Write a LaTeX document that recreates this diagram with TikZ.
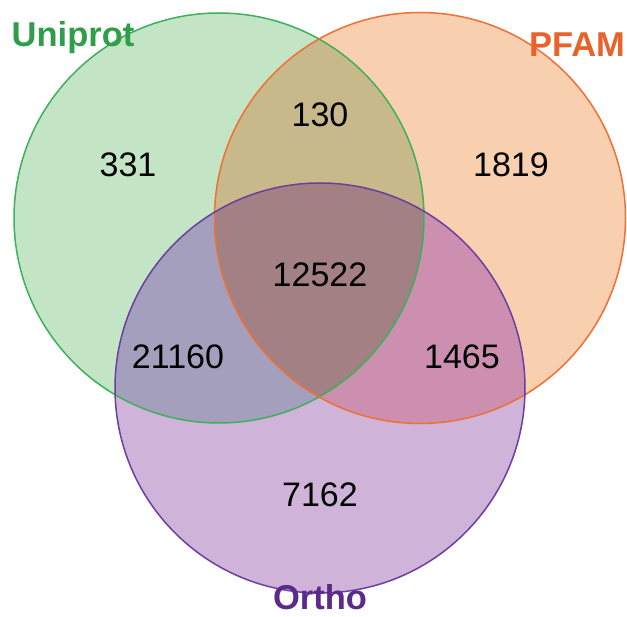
\documentclass[tikz,border=0pt]{standalone}
\usepackage{fontspec}
\setmainfont{Liberation Sans}
\definecolor{gfill}{HTML}{C3E4C5}
\definecolor{ofill}{HTML}{F8D0B0}
\definecolor{pfill}{HTML}{D0B3D9}
\definecolor{gofill}{HTML}{C8B98A}
\definecolor{gpfill}{HTML}{A59FBE}
\definecolor{opfill}{HTML}{CC8FB0}
\definecolor{gopfill}{HTML}{A28084}
\definecolor{gline}{HTML}{3CB05A}
\definecolor{oline}{HTML}{EE7035}
\definecolor{pline}{HTML}{6A3FA0}
\definecolor{gtext}{HTML}{2E9E48}
\definecolor{otext}{HTML}{E8632A}
\definecolor{ptext}{HTML}{5B2A8A}
\tikzset{
  num/.style={font=\fontsize{34}{38}\selectfont, text=black, inner sep=0pt},
  setlabel/.style={font=\fontsize{34.5}{38}\selectfont\bfseries, inner sep=0pt},
  ring/.style={line width=1.5pt}
}
\begin{document}
\begin{tikzpicture}[x=1pt,y=-1pt]
\useasboundingbox (0,0) rectangle (627,617);
\def\G{(219,218) circle (205)}
\def\O{(420,218) circle (205.5)}
\def\P{(320,388) circle (205)}
\fill[gfill] \G;
\fill[ofill] \O;
\fill[pfill] \P;
\begin{scope}\clip \G; \fill[gofill] \O; \fill[gpfill] \P; \end{scope}
\begin{scope}\clip \O; \fill[opfill] \P; \end{scope}
\begin{scope}\clip \G; \clip \O; \fill[gopfill] \P; \end{scope}
\draw[ring, gline] \G;
\draw[ring, oline] \O;
\draw[ring, pline] \P;
\node[setlabel, text=gtext] (uni) at (73,38) {Uniprot};
\node[setlabel, text=otext] (pfam) at (577,45) {PFAM};
\node[setlabel, text=ptext] (ortho) at (320,597) {Ortho};
\node[num] (n331) at (128,165) {331};
\node[num] (n130) at (320,115) {130};
\node[num] (n1819) at (511,165) {1819};
\node[num] (n12522) at (320,275) {12522};
\node[num] (n21160) at (178,357) {21160};
\node[num] (n1465) at (462,357) {1465};
\node[num] (n7162) at (320,495) {7162};
\end{tikzpicture}
\end{document}
